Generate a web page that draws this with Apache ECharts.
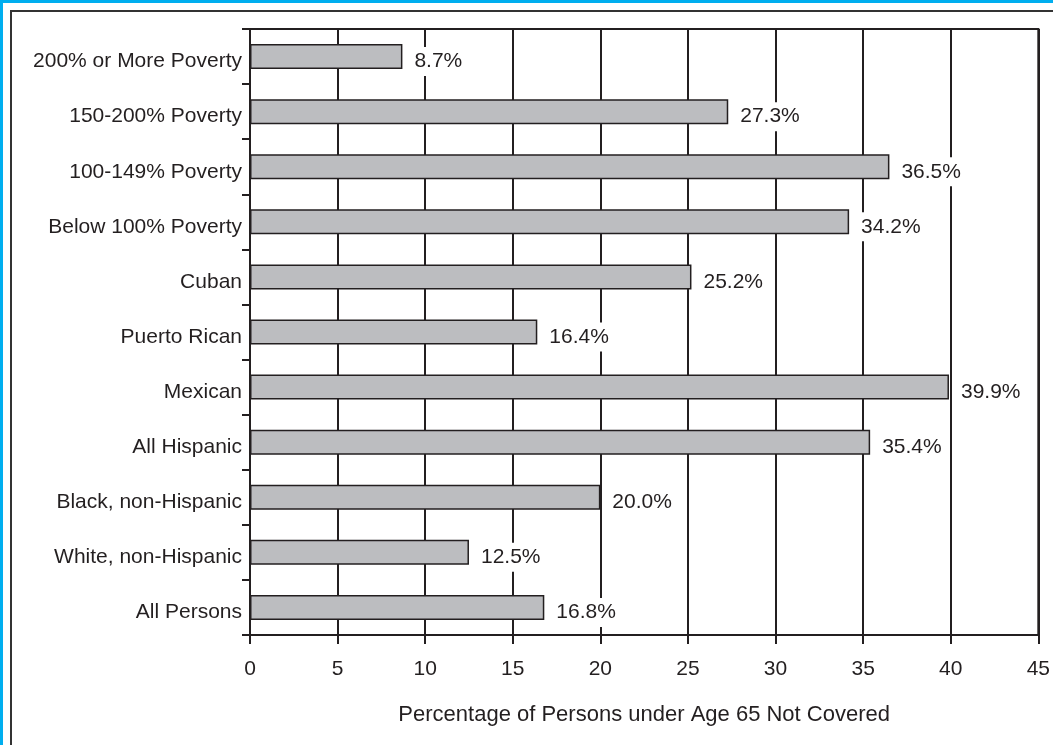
<!DOCTYPE html>
<html>
<head>
<meta charset="utf-8">
<script src="https://cdn.jsdelivr.net/npm/echarts@6/dist/echarts.min.js"></script>
<style>
  html, body { margin: 0; padding: 0; background: #ffffff; }
  #chart { width: 1053px; height: 745px; }
</style>
</head>
<body>
<div id="chart"></div>
<script>
// Groups, listed top to bottom
const categories = [
  '200% or More Poverty',
  '150-200% Poverty',
  '100-149% Poverty',
  'Below 100% Poverty',
  'Cuban',
  'Puerto Rican',
  'Mexican',
  'All Hispanic',
  'Black, non-Hispanic',
  'White, non-Hispanic',
  'All Persons'
];
// Percent of persons under 65 without coverage
const uninsured = [8.7, 27.3, 36.5, 34.2, 25.2, 16.4, 39.9, 35.4, 20.0, 12.5, 16.8];
const xTicks = [0, 5, 10, 15, 20, 25, 30, 35, 40, 45];
const xTitle = 'Percentage of Persons under Age 65 Not Covered';

const ink = '#231f20';
const font = 'Liberation Sans, Arial, Helvetica, sans-serif';

const chart = echarts.init(document.getElementById('chart'), null, { renderer: 'canvas' });
chart.setOption({
  backgroundColor: '#ffffff',
  animation: false,
  graphic: [
    // outer page frame
    { type: 'rect', shape: { x: 0, y: 0, width: 1053, height: 3 }, style: { fill: '#00aeef' }, silent: true },
    { type: 'rect', shape: { x: 0, y: 0, width: 3, height: 745 }, style: { fill: '#00aeef' }, silent: true },
    { type: 'line', shape: { x1: 10, y1: 11, x2: 1053, y2: 11 }, style: { stroke: '#333333', lineWidth: 2 }, silent: true },
    { type: 'line', shape: { x1: 11, y1: 10, x2: 11, y2: 745 }, style: { stroke: '#333333', lineWidth: 2 }, silent: true }
  ],
  grid: {
    left: 250, right: 11, top: 29, bottom: 110,
    show: true, borderColor: ink, borderWidth: 2, backgroundColor: 'transparent'
  },
  xAxis: {
    type: 'value',
    min: xTicks[0],
    max: xTicks[xTicks.length - 1],
    interval: xTicks[1] - xTicks[0],
    name: xTitle,
    nameLocation: 'middle',
    nameGap: 69,
    nameTextStyle: { color: ink, fontSize: 22, fontFamily: font },
    axisLine: { show: true, lineStyle: { color: ink, width: 2 } },
    axisTick: { show: true, inside: false, length: 9, lineStyle: { color: ink, width: 2 } },
    axisLabel: { color: ink, fontSize: 21, fontFamily: font, margin: 24 },
    splitLine: { show: true, lineStyle: { color: ink, width: 2 } }
  },
  yAxis: {
    type: 'category',
    data: categories,
    inverse: true,
    axisLine: { show: true, lineStyle: { color: ink, width: 2 } },
    axisTick: { show: true, inside: false, length: 8, lineStyle: { color: ink, width: 2 } },
    axisLabel: {
      margin: 8,
      formatter: v => '{t|' + v + '}',
      rich: {
        t: { color: ink, fontSize: 21, fontFamily: font, padding: [10, 0, 0, 0] }
      }
    },
    splitLine: { show: false }
  },
  series: [{
    type: 'bar',
    data: uninsured,
    barWidth: 25,
    z: 3,
    itemStyle: { color: '#bcbdc0', borderColor: ink, borderWidth: 1.5 },
    label: {
      show: true,
      position: 'right',
      distance: 9,
      offset: [0, 5],
      color: ink,
      fontSize: 21,
      fontFamily: font,
      backgroundColor: '#ffffff',
      padding: [4, 3],
      formatter: p => p.value.toFixed(1) + '%'
    }
  }]
});
</script>
</body>
</html>
